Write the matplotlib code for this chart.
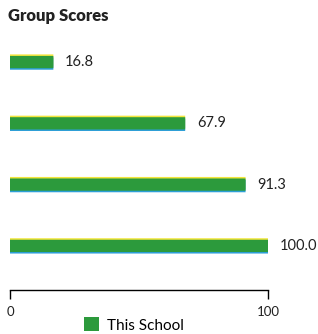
import matplotlib
matplotlib.use('Agg')
import matplotlib.pyplot as plt
from matplotlib.patches import Patch

plt.rcParams['font.family'] = ['Lato', 'DejaVu Sans']

# Data
groups = ['Group 1', 'Group 2', 'Group 3', 'Group 4']
scores = [16.8, 67.9, 91.3, 100.0]
tick_values = [0, 100]
series_name = 'This School'

green = '#2c9a3c'
yellow = '#f2e63c'
blue = '#2d9fd6'

fig = plt.figure(figsize=(3.18, 3.34), dpi=100)
ax = fig.add_axes([10 / 318, 44 / 334, 258 / 318, 250 / 334])

pos = list(range(len(groups)))
h = 0.2
# thin coloured edges like the printed original
ax.barh([p - 0.025 for p in pos], scores, height=h, color=yellow, zorder=1, snap=False)
ax.barh([p + 0.025 for p in pos], scores, height=h, color=blue, zorder=1, snap=False)
ax.barh(pos, scores, height=h, color=green, zorder=2, snap=False)

for p, s in zip(pos, scores):
    ax.annotate(f'{s:.1f}', (s, p), xytext=(8.5, 0), textcoords='offset points',
                va='center', ha='left', fontsize=10.5, color='#222222')

ax.set_xlim(0, 100)
ax.set_ylim(3.72, -0.36)
ax.set_yticks([])
ax.set_xticks(tick_values)
ax.set_xticklabels([str(t) for t in tick_values], fontsize=9.5, color='#222222')
ax.tick_params(axis='x', direction='out', length=6.5, width=1, pad=5)
for side in ['top', 'right', 'left']:
    ax.spines[side].set_visible(False)
ax.spines['bottom'].set_linewidth(1)
ax.patch.set_alpha(0)

fig.text(8 / 318, 1 - 16 / 334, 'Group Scores', fontsize=12, fontweight='heavy',
         va='center', ha='left', color='#222222')

handle = Patch(facecolor=green, edgecolor='none')
fig.legend([handle], [series_name], loc='center', bbox_to_anchor=(134 / 318, 9 / 334),
           frameon=False, fontsize=11, handlelength=1.0, handleheight=1.0,
           handletextpad=0.5, borderaxespad=0)

fig.savefig('out.png', dpi=100)
